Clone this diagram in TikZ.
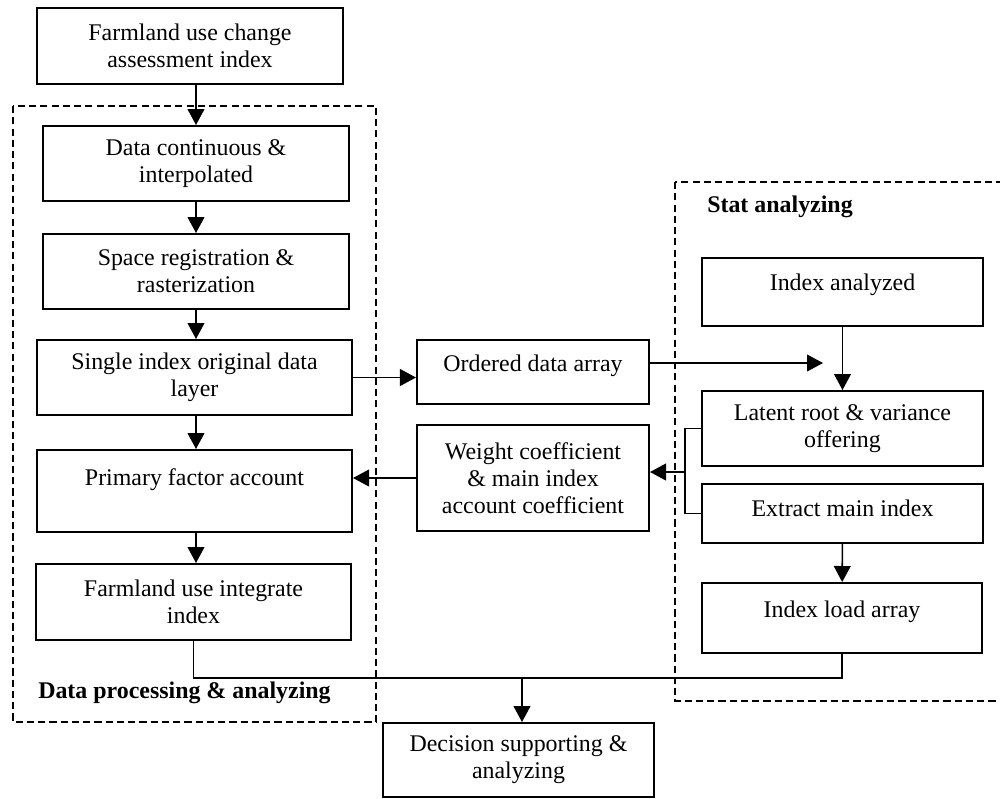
\documentclass[tikz,border=0pt]{standalone}
\usepackage{fontspec}
\setmainfont{Liberation Serif}
\usetikzlibrary{arrows.meta}

\tikzset{
  box/.style={draw, rectangle, line width=1.4pt, inner sep=0pt, align=center,
    font=\fontsize{17}{19.2}\selectfont},
  arr/.style={-{Triangle[length=0.4cm, width=0.42cm]}, line width=1.1pt},
  link/.style={line width=1.1pt},
  frame/.style={dash pattern=on 5pt off 3pt, line width=1pt},
  lbl/.style={anchor=west, inner sep=0pt, font=\fontsize{17}{19.2}\selectfont\bfseries}
}

\begin{document}
\begin{tikzpicture}[x=0.025cm, y=-0.025cm]
    \useasboundingbox (0,0) rectangle (1000,798);

    % dashed frames
    \draw[frame] (13,106) rectangle (376,722);
    \draw[frame] (675,182) rectangle (1012,701);

    \node[lbl] (statlbl) at (707,207) {Stat analyzing};
    \node[lbl] (proclbl) at (38,693) {Data processing \& analyzing};

    % left column
    \node[box, minimum width=7.65cm, minimum height=1.9cm] (top) at (190,46) {Farmland use change\\assessment index};
    \node[box, minimum width=7.65cm, minimum height=1.875cm] (cont) at (196,163.5) {Data continuous \&\\interpolated};
    \node[box, minimum width=7.65cm, minimum height=1.875cm] (space) at (196,271.5) {Space registration \&\\rasterization};
    \node[box, minimum width=7.875cm, minimum height=1.875cm] (single) at (194.5,377.5) {Single index original data\\layer};
    \node[box, minimum width=7.875cm, minimum height=2.05cm] (primary) at (194.5,491) {Primary factor account\\~};
    \node[box, minimum width=7.875cm, minimum height=1.9cm] (integrate) at (193.5,602) {Farmland use integrate\\index};

    % middle column
    \node[box, minimum width=5.8cm, minimum height=1.6cm, text depth=12pt] (ordered) at (533,372) {Ordered data array};
    \node[box, minimum width=5.8cm, minimum height=2.65cm] (weight) at (533,478) {Weight coefficient\\\& main index\\account coefficient};

    % right column
    \node[box, minimum width=7.025cm, minimum height=1.7cm, text depth=14pt] (analyzed) at (842.5,292) {Index analyzed};
    \node[box, minimum width=7.025cm, minimum height=1.875cm] (latent) at (842.5,428.5) {Latent root \& variance\\offering};
    \node[box, minimum width=7.025cm, minimum height=1.475cm, text depth=8pt] (extract) at (842.5,513.5) {Extract main index};
    \node[box, minimum width=7cm, minimum height=1.75cm, text depth=12pt] (loadarr) at (842,618) {Index load array};

    % bottom
    \node[box, minimum width=6.775cm, minimum height=1.85cm] (decision) at (518.5,760) {Decision supporting \&\\analyzing};

    % connectors
    \draw[arr] (cont.north |- top.south) -- (cont.north);
    \draw[arr] (cont) -- (space);
    \draw[arr] (space.south) -- (space.south |- single.north);
    \draw[arr] (single.south -| space.south) -- (primary.north -| space.south);
    \draw[arr] (primary.south -| space.south) -- (integrate.north -| space.south);

    \draw[arr] (single.east) -- (single.east -| ordered.west);
    \coordinate (inlatent) at (823,363);
    \draw[arr] (ordered.east |- inlatent) -- (inlatent);
    \draw[arr] (analyzed) -- (latent);
    \draw[arr] (extract) -- (loadarr);

    \coordinate (brk) at (685,472);
    \draw[link] (latent.west) -- (latent.west -| brk) -- (extract.west -| brk) -- (extract.west);
    \draw[arr] (brk) -- (brk -| weight.east);
    \draw[arr] (weight.west) -- (weight.west -| primary.east);

    \coordinate (merge) at (522,678);
    \draw[link] (integrate.south) |- (merge) -| (loadarr.south);
    \draw[arr] (merge) -- (merge |- decision.north);
\end{tikzpicture}
\end{document}
